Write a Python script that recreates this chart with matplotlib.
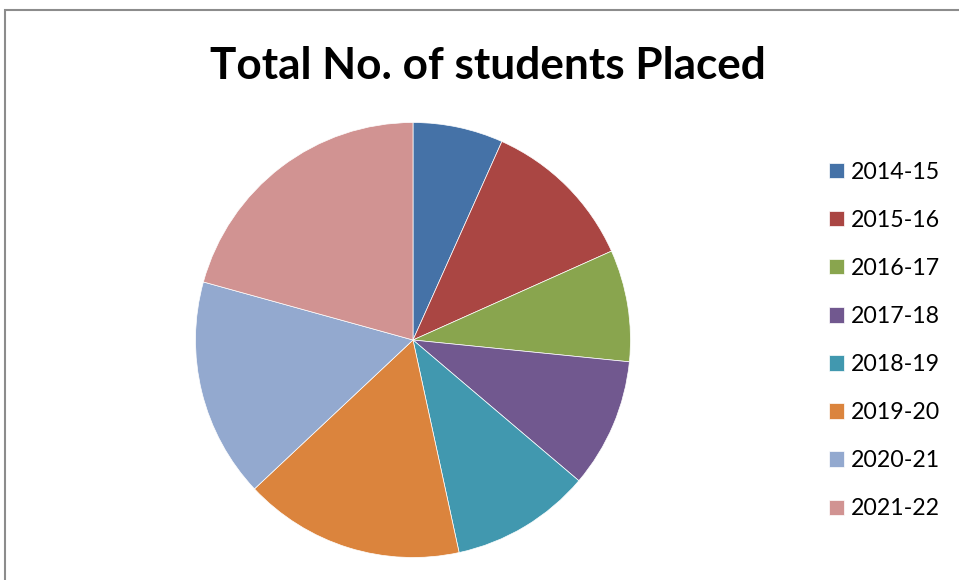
import matplotlib.pyplot as plt
from matplotlib.patches import Rectangle

# Data
years = ["2014-15", "2015-16", "2016-17", "2017-18",
         "2018-19", "2019-20", "2020-21", "2021-22"]
placed = [67, 116, 83, 96, 104, 164, 163, 207]
colors = ["#4572A7", "#AA4643", "#89A54E", "#71588F",
          "#4198AF", "#DB843D", "#93A9CF", "#D19392"]

plt.rcParams["font.family"] = ["Lato", "DejaVu Sans"]

W, H = 959, 580
fig = plt.figure(figsize=(W / 100, H / 100), dpi=100)

# outer chart frame (cut off at right and bottom like the screenshot)
fig.patches.append(Rectangle((5 / W, -0.1), 1.2, 1.1 - 10 / H,
                             transform=fig.transFigure, fill=False,
                             edgecolor="#8c8c8c", linewidth=1.5))

# pie
cx, cy, r = 413, 340, 217.5
ax = fig.add_axes([(cx - r) / W, (H - cy - r) / H, 2 * r / W, 2 * r / H])
wedges, _ = ax.pie(placed, colors=colors, startangle=90, counterclock=False,
                   wedgeprops=dict(edgecolor="white", linewidth=0.5))
ax.set_xlim(-1, 1)
ax.set_ylim(-1, 1)
ax.axis("off")

fig.text(488 / W, 1 - 79 / H, "Total No. of students Placed",
         ha="center", va="baseline", fontsize=31.8, fontweight="bold")

fig.legend(wedges, years, loc="center left",
           bbox_to_anchor=(829 / W, 1 - 340.5 / H),
           frameon=False, fontsize=16.7, borderpad=0, borderaxespad=0,
           handlelength=0.65, handleheight=0.65, handletextpad=0.3,
           labelspacing=1.17)

fig.savefig("out.png", dpi=100)
